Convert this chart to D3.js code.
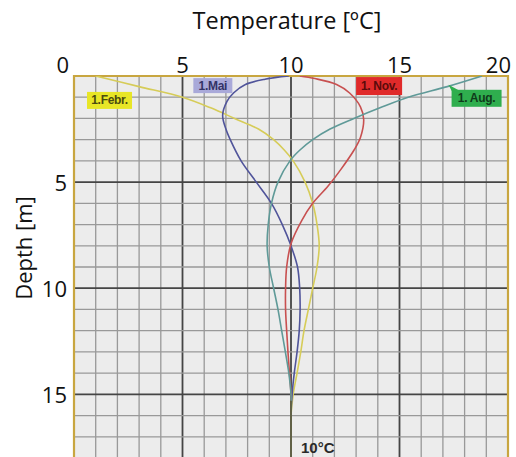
<!DOCTYPE html>
<html><head><meta charset="utf-8">
<script src="https://cdn.jsdelivr.net/npm/d3@7"></script>
<style>
html,body{margin:0;padding:0;background:#fff;}
svg{display:block;}
</style></head>
<body>
<script>
// ---- data ----
const xTicks = [0, 5, 10, 15, 20];
const yTicks = [5, 10, 15];
const febDepth = [0, 0.5, 1, 1.5, 2, 2.5, 3, 3.5, 4, 5, 6, 7, 8, 9, 10, 11, 12, 13, 14, 15, 16, 17, 18];
const febTemp  = [1.0, 3.0, 5.0, 6.3, 7.4, 8.5, 9.2, 9.7, 10.1, 10.65, 11.0, 11.2, 11.3, 11.2, 11.0, 10.8, 10.6, 10.45, 10.28, 10.1, 10.0, 10.0, 10.0];
const maiDepth = [0, 0.15, 0.4, 0.8, 1.2, 1.85, 2.5, 3, 4, 5, 6, 7, 8, 9, 10, 11, 12, 13, 14, 15, 16, 17, 18];
const maiTemp  = [9.9, 8.8, 7.9, 7.35, 7.05, 6.85, 7.0, 7.2, 7.7, 8.4, 9.1, 9.6, 10.0, 10.3, 10.4, 10.42, 10.38, 10.28, 10.15, 10.05, 10.0, 10.0, 10.0];
const novDepth = [0, 0.12, 0.4, 0.8, 1.45, 2.05, 2.9, 3.5, 4.4, 5.2, 6, 6.8, 7.9, 9, 10, 11, 12, 13, 14, 15, 16, 17, 18];
const novTemp  = [10.4, 11.1, 12.1, 12.7, 13.2, 13.35, 13.2, 12.9, 12.3, 11.7, 11.0, 10.5, 10.0, 9.8, 9.75, 9.75, 9.8, 9.86, 9.93, 10.0, 10.0, 10.0, 10.0];
const augDepth = [0, 0.5, 1, 1.5, 2, 2.5, 3, 3.5, 4, 5, 6, 7, 8, 9, 10, 11, 12, 13, 14, 15, 16, 17, 18];
const augTemp  = [18.8, 17.2, 15.4, 14.1, 12.9, 11.8, 11.0, 10.4, 9.95, 9.4, 9.1, 8.95, 8.9, 9.0, 9.2, 9.4, 9.57, 9.74, 9.9, 10.0, 10.0, 10.0, 10.0];
const seriesNames = ["1.Febr.", "1.Mai", "1. Nov.", "1. Aug."];
const seriesColors = ["#d6cc58", "#50549a", "#c85050", "#5f9a98"];
const labelFill = ["#e8e626", "#a9a9d9", "#e02a2a", "#2fae4e"];
const labelText = ["#4a4a10", "#333366", "#5a0a0a", "#0f3a1a"];
// label anchor (temperature, depth) of the upper-left corner
const labelT = [0.6, 5.5, 13.0, 17.4];
const labelD = [0.75, 0.1, 0.05, 0.65];
const noteText = "10°C";

// ---- layout ----
const W = 516, H = 457;
const svg = d3.select("body").append("svg").attr("width", W).attr("height", H);
const pL = 74, pR = 508, pT = 76, pB = 458;
const x = d3.scaleLinear().domain([0, 20]).range([pL, pR]);
const y = d3.scaleLinear().domain([0, 18]).range([pT, pB]);

const font = "'Open Sans', 'Noto Sans', sans-serif";

// background
svg.append("rect").attr("x", pL).attr("y", pT).attr("width", pR - pL).attr("height", pB - pT).attr("fill", "#ececec");

// grid
const g = svg.append("g");
d3.range(0, 21).forEach(v => {
  const major = v % 5 === 0;
  g.append("line").attr("x1", x(v)).attr("x2", x(v)).attr("y1", pT).attr("y2", pB)
    .attr("stroke", major ? "#454545" : "#999").attr("stroke-width", major ? 1.8 : 1.3);
});
d3.range(0, 19).forEach(v => {
  const major = v % 5 === 0;
  g.append("line").attr("y1", y(v)).attr("y2", y(v)).attr("x1", pL).attr("x2", pR)
    .attr("stroke", major ? "#454545" : "#999").attr("stroke-width", major ? 1.8 : 1.3);
});

// frame
svg.append("path").attr("d", `M${pL},${pB} L${pL},${pT} L${pR},${pT} L${pR},${pB}`)
  .attr("fill", "none").attr("stroke", "#c8a640").attr("stroke-width", 2.2);

// lines
const line = d3.line().x(d => x(d[0])).y(d => y(d[1])).curve(d3.curveCatmullRom.alpha(0.5));
const depths = [febDepth, maiDepth, novDepth, augDepth];
const temps = [febTemp, maiTemp, novTemp, augTemp];
svg.append("clipPath").attr("id", "c").append("rect")
  .attr("x", pL).attr("y", pT).attr("width", pR - pL).attr("height", pB - pT);
const lg = svg.append("g").attr("clip-path", "url(#c)");
[0, 1, 2, 3].forEach(i => {
  const pts = depths[i].map((d, k) => [temps[i][k], d]);
  lg.append("path").attr("d", line(pts)).attr("fill", "none")
    .attr("stroke", seriesColors[i]).attr("stroke-width", 1.6);
});
// dark overlapping trunk
lg.append("line").attr("x1", x(10)).attr("x2", x(10)).attr("y1", y(15.3)).attr("y2", pB)
  .attr("stroke", "#5a4a20").attr("stroke-width", 1.8).attr("opacity", 0.7);

// labels
const boxW = [45, 39, 46, 50], boxH = [17, 15, 18, 17];
[0, 1, 2, 3].forEach(i => {
  const bx = x(labelT[i]), by = y(labelD[i]);
  if (i === 3) {
    svg.append("path").attr("d", `M${bx},${by + 1} L${bx - 3},${by - 5} L${bx + 8},${by + 1} Z`).attr("fill", labelFill[i]);
  }
  svg.append("rect").attr("x", bx).attr("y", by).attr("width", boxW[i]).attr("height", boxH[i]).attr("fill", labelFill[i]);
  svg.append("text").attr("x", bx + boxW[i] / 2).attr("y", by + boxH[i] / 2 + 4)
    .attr("text-anchor", "middle").attr("font-family", "'Liberation Sans Narrow', 'Liberation Sans', sans-serif")
    .attr("font-weight", "bold").attr("font-size", 12).attr("fill", labelText[i])
    .attr("letter-spacing", -0.3).text(seriesNames[i]);
});

svg.append("text").attr("x", x(10) + 10).attr("y", 453).attr("font-family", "'Liberation Sans', sans-serif")
  .attr("font-weight", "bold").attr("font-size", 15).attr("fill", "#2a2a2a").text(noteText);

// x tick labels (top)
xTicks.forEach(v => {
  let anchor = "middle", px = x(v);
  if (v === 0) { anchor = "end"; px = x(v) - 5; }
  if (v === 20) { anchor = "end"; px = x(v) + 3; }
  svg.append("text").attr("x", px).attr("y", 72.5).attr("text-anchor", anchor)
    .attr("font-family", font).attr("font-size", 22).attr("fill", "#111").text(v);
});
// y tick labels
yTicks.forEach(v => {
  svg.append("text").attr("x", 67).attr("y", y(v) + 9).attr("text-anchor", "end")
    .attr("font-family", font).attr("font-size", 22).attr("fill", "#111").text(v);
});
// titles
svg.append("text").attr("x", 287).attr("y", 29).attr("text-anchor", "middle")
  .attr("font-family", font).attr("font-size", 23.5).attr("fill", "#111").text("Temperature [ºC]");
svg.append("text").attr("transform", "translate(32,248) rotate(-90)").attr("text-anchor", "middle")
  .attr("font-family", font).attr("font-size", 22).attr("fill", "#111").text("Depth [m]");
</script>
</body></html>
